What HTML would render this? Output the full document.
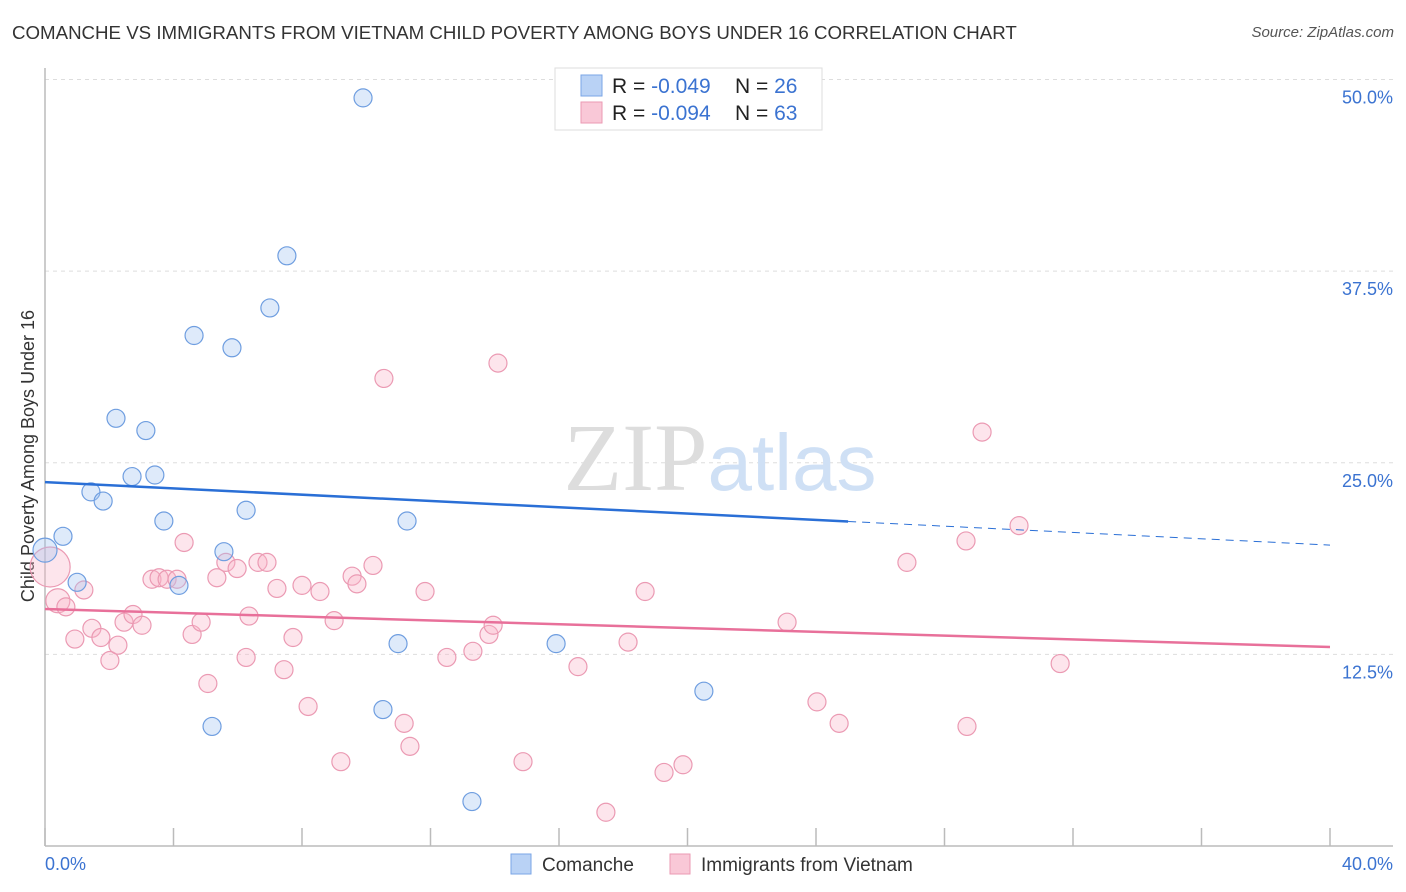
<!DOCTYPE html>
<html><head><meta charset="utf-8">
<style>
body{margin:0;background:#fff;font-family:"Liberation Sans",sans-serif;}
#wrap{position:relative;width:1406px;height:892px;overflow:hidden;}
.title{position:absolute;left:12px;top:22px;font-size:18.7px;color:#333;}
.src{position:absolute;right:12px;top:24px;font-size:15px;color:#555;font-style:italic;}
</style></head><body>
<div id="wrap">
<div class="title">COMANCHE VS IMMIGRANTS FROM VIETNAM CHILD POVERTY AMONG BOYS UNDER 16 CORRELATION CHART</div>
<div class="src">Source: ZipAtlas.com</div>
<svg id="svg" width="1406" height="892" style="position:absolute;left:0;top:0"></svg>
</div>
<script>
const yTicks=[12.5,25.0,37.5,50.0];
const xTickVals=[0,4,8,12,16,20,24,28,32,36,40];
const blueX=[0,0.56,1.0,1.43,1.81,2.21,2.71,3.14,3.42,3.70,4.17,4.64,5.20,5.57,5.82,6.26,7.00,7.53,9.90,10.52,10.99,11.27,13.29,15.91,20.51,17.49];
const blueY=[19.3,20.2,17.2,23.1,22.5,27.9,24.1,27.1,24.2,21.2,17.0,33.3,7.8,19.2,32.5,21.9,35.1,38.5,48.8,8.9,13.2,21.2,2.9,13.2,10.1,49.0];
const blueR=[12];
const pinkX=[0.16,0.40,0.65,0.93,1.21,1.46,1.74,2.02,2.27,2.46,2.74,3.02,3.33,3.55,3.80,4.11,4.33,4.58,4.86,5.07,5.35,5.63,5.98,6.26,6.35,6.63,6.91,7.22,7.44,7.72,8.00,8.19,8.56,9.00,9.21,9.56,9.71,10.21,10.55,11.18,11.36,11.83,12.51,13.32,13.82,13.95,14.10,14.88,16.59,17.46,18.15,18.68,19.27,19.86,23.10,24.03,24.72,26.83,28.67,28.70,29.17,30.32,31.60];
const pinkY=[18.2,16.0,15.6,13.5,16.7,14.2,13.6,12.1,13.1,14.6,15.1,14.4,17.4,17.5,17.4,17.4,19.8,13.8,14.6,10.6,17.5,18.5,18.1,12.3,15.0,18.5,18.5,16.8,11.5,13.6,17.0,9.1,16.6,14.7,5.5,17.6,17.1,18.3,30.5,8.0,6.5,16.6,12.3,12.7,13.8,14.4,31.5,5.5,11.7,2.2,13.3,16.6,4.8,5.3,14.6,9.4,8.0,18.5,19.9,7.8,27.0,20.9,11.9];
const pinkR=[20,12,9];
const blueTrend=[23.74,19.63];
const pinkTrend=[15.46,12.98];
const blueSolidEnd=25.0;

const NS="http://www.w3.org/2000/svg";
const svg=document.getElementById('svg');
const X0=45,X1=1330,Y0=846,PXY=15.33;
const sx=v=>X0+(v/40)*(X1-X0);
const sy=v=>Y0-v*PXY;
function mk(tag,attrs,parent){const e=document.createElementNS(NS,tag);for(const k in attrs)e.setAttribute(k,attrs[k]);(parent||svg).appendChild(e);return e;}

yTicks.forEach(t=>{
  const l=mk('line',{x1:X0,x2:1393,y1:sy(t),y2:sy(t),stroke:'#ddd','stroke-dasharray':'4,4'});
  
  
  const tx=mk('text',{x:1393,y:sy(t)+24,'text-anchor':'end','font-size':18,fill:'#3b73d1'});
  tx.textContent=t.toFixed(1)+'%';
  
  
});
const ya=mk('line',{x1:X0,x2:X0,y1:68,y2:Y0,stroke:'#bbb','stroke-width':1.5});


const xa=mk('line',{x1:X0,x2:1393,y1:Y0,y2:Y0,stroke:'#bbb','stroke-width':1.5});


xTickVals.forEach(t=>{
  const l=mk('line',{x1:sx(t),x2:sx(t),y1:Y0,y2:Y0-18,stroke:'#bbb','stroke-width':1.5});
  
  
});
[[0,'0.0%','start',45],[40,'40.0%','end',1393]].forEach(a=>{
  const t=mk('text',{x:a[3],y:870,'text-anchor':a[2],'font-size':18,fill:'#3b73d1'});
  t.textContent=a[1];
  
  
});
const yt=mk('text',{x:0,y:0,transform:'translate(34,456) rotate(-90)','text-anchor':'middle','font-size':18,fill:'#333'});
yt.textContent='Child Poverty Among Boys Under 16';


const wm=mk('text',{x:720,y:490,'text-anchor':'middle','font-size':96});
wm.innerHTML='<tspan fill="#ddd" font-family="Liberation Serif, serif">ZIP</tspan><tspan fill="#cfe0f5" font-size="80">atlas</tspan>';



pinkX.forEach((x,i)=>{
  const c=mk('circle',{cx:sx(x),cy:sy(pinkY[i]),r:pinkR[i]||9,fill:'rgba(248,180,200,0.35)',stroke:'#eb9ab3','stroke-width':1.2});
  
  
});
blueX.forEach((x,i)=>{
  const c=mk('circle',{cx:sx(x),cy:sy(blueY[i]),r:blueR[i]||9,fill:'rgba(160,195,240,0.35)',stroke:'#6f9ee0','stroke-width':1.2});
  
  
});
const by=x=>blueTrend[0]+(blueTrend[1]-blueTrend[0])*x/40;
const bt=mk('line',{x1:sx(0),y1:sy(by(0)),x2:sx(blueSolidEnd),y2:sy(by(blueSolidEnd)),stroke:'#2a6fd6','stroke-width':2.5});


const bd=mk('line',{x1:sx(blueSolidEnd),y1:sy(by(blueSolidEnd)),x2:sx(40),y2:sy(by(40)),stroke:'#2a6fd6','stroke-width':1,'stroke-dasharray':'8,6'});


const pt=mk('line',{x1:sx(0),y1:sy(pinkTrend[0]),x2:sx(40),y2:sy(pinkTrend[1]),stroke:'#e8709a','stroke-width':2.5});



const g=mk('g',{});


mk('rect',{x:555,y:68,width:267,height:62,fill:'#fff',stroke:'#ddd'},g);
mk('rect',{x:581,y:75,width:21,height:21,fill:'#b9d2f5',stroke:'#7aa5e6'},g);
mk('rect',{x:581,y:102,width:21,height:21,fill:'#f9c8d7',stroke:'#eb9ab3'},g);
const l1=mk('text',{x:612,y:93,'font-size':21,fill:'#222'},g);
l1.innerHTML='R = <tspan fill="#3b73d1">-0.049</tspan><tspan x="735">N = </tspan><tspan fill="#3b73d1">26</tspan>';


const l2=mk('text',{x:612,y:120,'font-size':21,fill:'#222'},g);
l2.innerHTML='R = <tspan fill="#3b73d1">-0.094</tspan><tspan x="735">N = </tspan><tspan fill="#3b73d1">63</tspan>';



const bl=mk('g',{});


mk('rect',{x:511,y:854,width:20,height:20,fill:'#b9d2f5',stroke:'#7aa5e6'},bl);
const t1=mk('text',{x:542,y:871,'font-size':19,fill:'#333'},bl);t1.textContent='Comanche';


mk('rect',{x:670,y:854,width:20,height:20,fill:'#f9c8d7',stroke:'#eb9ab3'},bl);
const t2=mk('text',{x:701,y:871,'font-size':19,fill:'#333'},bl);t2.textContent='Immigrants from Vietnam';


</script>
</body></html>
